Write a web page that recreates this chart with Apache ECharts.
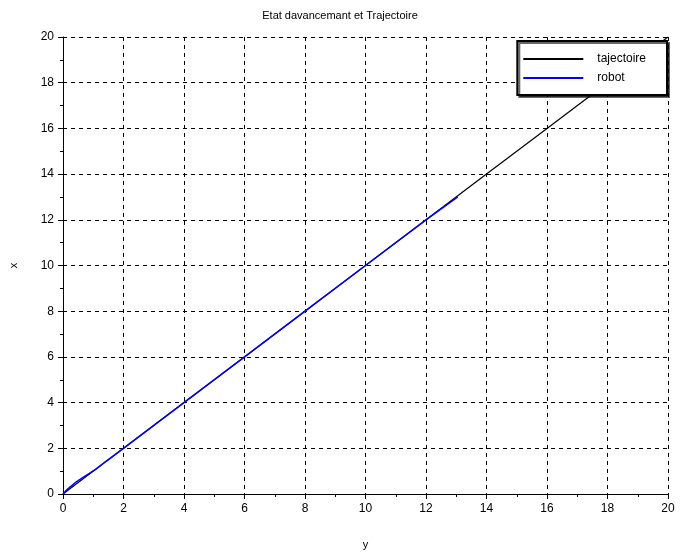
<!DOCTYPE html>
<html><head><meta charset="utf-8">
<script src="https://cdn.jsdelivr.net/npm/echarts@6/dist/echarts.min.js"></script>
<style>html,body{margin:0;padding:0;background:#fff}#c{width:680px;height:555px}</style>
</head><body><div id="c"></div>
<script>
var titleText = 'Etat davancemant et Trajectoire';
var xName = 'y';
var yName = 'x';
var seriesNames = ['tajectoire', 'robot'];
// trajectory (horizontal "y", vertical "x")
var trajH = [0, 2, 4, 6, 8, 10, 12, 14, 16, 18, 20];
var trajV = [0, 2, 4, 6, 8, 10, 12, 14, 16, 18, 20];
// robot path
var robotH = [0, 0.1, 0.21, 0.43, 0.65, 0.87, 1.1, 1.4, 2, 4, 6, 8, 10, 12, 13.05];
var robotV = [0, 0.15, 0.28, 0.52, 0.72, 0.9, 1.1, 1.41, 2, 4, 6, 8, 10, 12, 13.0];

function pairs(a, b){ return a.map(function(v,i){ return [v, b[i]]; }); }

var font = 'Liberation Sans, Arial, sans-serif';
var chart = echarts.init(document.getElementById('c'));
function axisCommon(){
  return {
    type: 'value', min: 0, max: 20, interval: 2,
    axisLine: {show: true, onZero: false, lineStyle: {color: '#000', width: 1}},
    axisTick: {show: true, inside: false, length: 5, lineStyle: {color: '#000'}},
    minorTick: {show: true, splitNumber: 2, length: 3, lineStyle: {color: '#000'}},
    splitLine: {show: true, lineStyle: {color: '#000', type: [4, 4], width: 1}},
    axisLabel: {color: '#000', fontSize: 12, fontFamily: font},
    nameTextStyle: {color: '#000', fontSize: 11, fontFamily: font}
  };
}
var xa = axisCommon();
xa.name = xName; xa.nameLocation = 'middle'; xa.nameGap = 45;
xa.axisLabel.margin = 9;
var ya = axisCommon();
ya.name = yName; ya.nameLocation = 'middle'; ya.nameGap = 44; ya.nameRotate = 90;
ya.axisLabel.margin = 9;

chart.setOption({
  animation: false,
  backgroundColor: '#fff',
  title: {text: titleText, left: 'center', top: 5,
    textStyle: {fontSize: 11, fontWeight: 'normal', color: '#000', fontFamily: font}},
  grid: {left: 62, right: 12, top: 37, bottom: 59},
  xAxis: xa,
  yAxis: ya,
  legend: {
    right: 13, top: 41, orient: 'vertical',
    backgroundColor: '#fff', borderColor: '#000', borderWidth: 2,
    padding: [12, 21, 11, 6], itemGap: 7,
    shadowColor: 'rgba(0,0,0,0.6)', shadowOffsetX: 2, shadowOffsetY: 2, shadowBlur: 0,
    icon: 'rect', itemWidth: 60, itemHeight: 2,
    textStyle: {color: '#000', fontSize: 12, fontFamily: font, padding: [0, 0, 0, 9]},
    data: seriesNames
  },
  series: [
    {name: seriesNames[0], type: 'line', data: pairs(trajH, trajV), symbol: 'none',
      lineStyle: {color: '#000', width: 1.2}, itemStyle: {color: '#000'}, z: 2},
    {name: seriesNames[1], type: 'line', data: pairs(robotH, robotV), symbol: 'none',
      lineStyle: {color: '#0000ff', width: 1.5}, itemStyle: {color: '#0000ff'}, z: 3}
  ]
});
</script></body></html>
